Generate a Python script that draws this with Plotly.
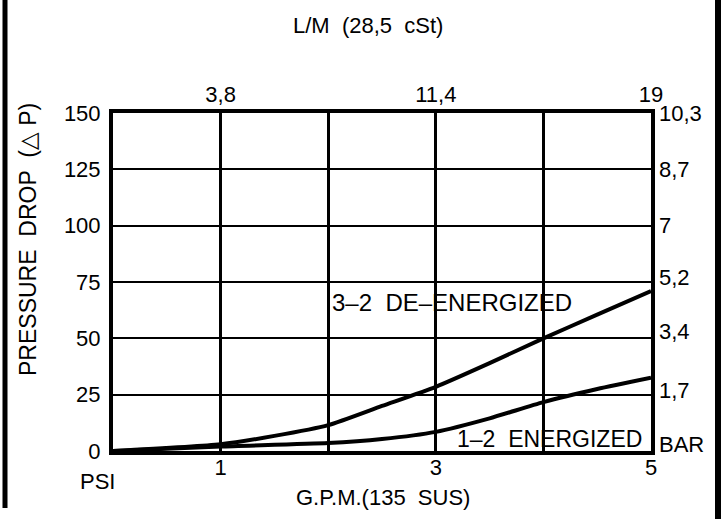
import plotly.graph_objects as go

gpm = [0, 1, 1.5, 2, 2.5, 3, 3.5, 4, 4.5, 5]
de_energized = [0, 3, 6.7, 11.5, 20, 28.5, 39, 50, 60.5, 71]
gpm2 = [0, 1, 2, 2.5, 3, 3.5, 4, 4.5, 5]
energized = [0, 2, 3.5, 5.3, 8.5, 14.5, 21.7, 27.5, 32.5]

x_ticks = [1, 2, 3, 4, 5]
x_ticktext = ["1", "", "3", "", "5"]
top_tickvals = [1, 3, 5]
top_ticktext = ["3,8", "11,4", "19"]
psi_ticks = [0, 25, 50, 75, 100, 125, 150]
bar_labels = ["10,3", "8,7", "7", "5,2", "3,4", "1,7", "BAR"]
bar_pos = [150, 125, 100, 77, 53, 27, 3]

FONT = "Liberation Sans, Arial, sans-serif"

fig = go.Figure()
fig.add_trace(go.Scatter(x=gpm, y=de_energized, mode="lines",
                         line=dict(color="black", width=4, shape="spline", smoothing=0.6),
                         showlegend=False, hoverinfo="skip"))
fig.add_trace(go.Scatter(x=gpm2, y=energized, mode="lines",
                         line=dict(color="black", width=4, shape="spline", smoothing=0.6),
                         showlegend=False, hoverinfo="skip"))
# dummy trace for top axis
fig.add_trace(go.Scatter(x=[0, 5], y=[0, 0], xaxis="x2", mode="lines",
                         line=dict(width=0), showlegend=False, hoverinfo="skip"))

fig.update_layout(
    width=725, height=519,
    margin=dict(l=113, r=74, t=113, b=68),
    paper_bgcolor="white", plot_bgcolor="white",
    font=dict(family=FONT, color="black", size=22),
    xaxis=dict(range=[0, 5], tickvals=x_ticks, ticktext=x_ticktext,
               showgrid=True, gridcolor="black", gridwidth=3,
               showline=True, linecolor="black", linewidth=4, mirror=True,
               zeroline=False, ticks="", ticklabelstandoff=-6,
               tickfont=dict(size=22), automargin=False),
    xaxis2=dict(range=[0, 5], overlaying="x", side="top", tickvals=top_tickvals,
                ticktext=top_ticktext, showgrid=False, zeroline=False,
                showline=False, ticks="", ticklabelstandoff=6,
                tickfont=dict(size=22), automargin=False),
    yaxis=dict(range=[0, 150], tickvals=psi_ticks,
               showgrid=True, gridcolor="black", gridwidth=2,
               showline=True, linecolor="black", linewidth=4, mirror=True,
               zeroline=False, ticks="", ticklabelstandoff=4,
               tickfont=dict(size=22), automargin=False),
)

annotations = []
for lab, pos in zip(bar_labels, bar_pos):
    annotations.append(dict(x=1.012, y=pos, xref="paper", yref="y", text=lab,
                            showarrow=False, xanchor="left", yanchor="middle",
                            font=dict(size=22)))
annotations += [
    dict(x=368, y=519 - 25, xref="paper", yref="paper", text="L/M  (28,5  cSt)",
         showarrow=False, xanchor="center", yanchor="middle", font=dict(size=22)),
    dict(x=383, y=519 - 497, xref="paper", yref="paper", text="G.P.M.(135  SUS)",
         showarrow=False, xanchor="center", yanchor="middle", font=dict(size=22)),
    dict(x=97, y=519 - 481, xref="paper", yref="paper", text="PSI",
         showarrow=False, xanchor="center", yanchor="middle", font=dict(size=22)),
    dict(x=28, y=519 - 240, xref="paper", yref="paper", text="PRESSURE  DROP  (△ P)",
         showarrow=False, xanchor="center", yanchor="middle", textangle=-90,
         font=dict(size=23)),
    dict(x=2.02, y=66, xref="x", yref="y", text="3–2  DE–ENERGIZED",
         showarrow=False, xanchor="left", yanchor="middle", font=dict(size=24)),
    dict(x=3.18, y=5.3, xref="x", yref="y", text="1–2  ENERGIZED",
         showarrow=False, xanchor="left", yanchor="middle", font=dict(size=23)),
]
# convert pixel-positioned paper annotations
for a in annotations:
    if a["xref"] == "paper" and a["x"] > 2:
        a["x"] = (a["x"] - 113) / 538
        a["y"] = (a["y"] - 68) / 338
fig.update_layout(annotations=annotations)

def px(xp, yp):
    return (xp - 113) / 538, (519 - yp - 68) / 338

x0, y0 = px(5, 0)
x1, y1 = px(5, 508)
x2, y2 = px(718, 0)
x3, y3 = px(718, 519)
fig.add_shape(type="line", xref="paper", yref="paper", x0=x0, y0=y0, x1=x1, y1=y1,
              line=dict(color="black", width=5))
fig.add_shape(type="line", xref="paper", yref="paper", x0=x2, y0=y2, x1=x3, y1=y3,
              line=dict(color="black", width=6))

fig.write_html("out.html", config={"displayModeBar": False},
               post_script="document.body.style.margin='0';document.body.style.overflow='hidden';")
